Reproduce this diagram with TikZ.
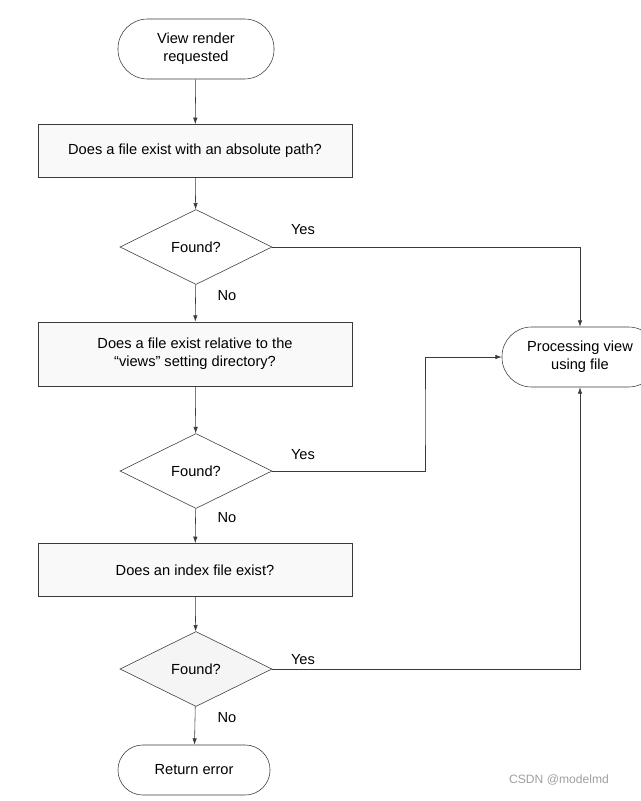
\documentclass[tikz,border=0pt]{standalone}
\usepackage{fontspec}
\setmainfont{Liberation Sans}
\usetikzlibrary{arrows.meta,positioning,shapes.geometric,calc}
\definecolor{ink}{HTML}{3A3A3A}
\definecolor{wash}{HTML}{F9F9F9}
\newcommand{\fsz}{\fontsize{10.4}{13}\selectfont}
\tikzset{stepbox/.style={draw=ink,fill=wash,align=center,font=\fsz,minimum width=7.85cm,minimum height=1.33cm,inner sep=2pt},
term/.style={draw=ink,fill=white,rounded corners=7.4mm,align=center,font=\fsz,minimum width=3.9cm,minimum height=1.5cm},
decision/.style={diamond,draw=ink,fill=white,font=\fsz,minimum width=3.8cm,minimum height=1.875cm,inner sep=0pt,aspect=2},
arr/.style={-{Latex[length=1.6mm,width=1.1mm]},draw=ink,thin},lbl/.style={font=\fsz}}
\begin{document}
\begin{tikzpicture}[x=0.025cm,y=-0.025cm]
\useasboundingbox (0,0) rectangle (640,801);
\node[term] (start) at (196,49){View render\\requested};
\node[stepbox] (abs) at (195,151){Does a file exist with an absolute path?};
\node[decision] (f1) at (196,247){Found?};
\node[stepbox,minimum height=1.6cm] (rel) at (195,354){Does a file exist relative to the\\“views” setting directory?};
\node[decision] (f2) at (196,471){Found?};
\node[stepbox] (idx) at (195,570){Does an index file exist?};
\node[decision,fill=black!4] (f3) at (196,669){Found?};
\node[term,minimum width=3.8cm,minimum height=1.25cm,rounded corners=6.2mm] (err) at (194,770){Return error};
\node[term] (proc) at (580,357){Processing view\\using file};
\coordinate (bend) at (425,420);
\draw[arr](start)--(abs);\draw[arr](abs)--(f1);\draw[arr](f1)--(rel);\draw[arr](rel)--(f2);
\draw[arr](f2)--(idx);\draw[arr](idx)--(f3);\draw[arr](f3)--(err);
\draw[arr](f1.east)-|(proc.north);\draw[arr](f2.east)-|(bend)|-(proc.west);\draw[arr](f3.east)-|(proc.south);
\node[lbl] (y1) at (303,230){Yes};\node[lbl] (n1) at (227,296){No};
\node[lbl] (y2) at (303,455){Yes};\node[lbl] (n2) at (227,518){No};
\node[lbl] (y3) at (303,660){Yes};\node[lbl] (n3) at (227,718){No};
\node[font=\fontsize{8.6}{10}\selectfont,text=gray!75] (mark) at (559,780){CSDN @modelmd};
\end{tikzpicture}
\end{document}
